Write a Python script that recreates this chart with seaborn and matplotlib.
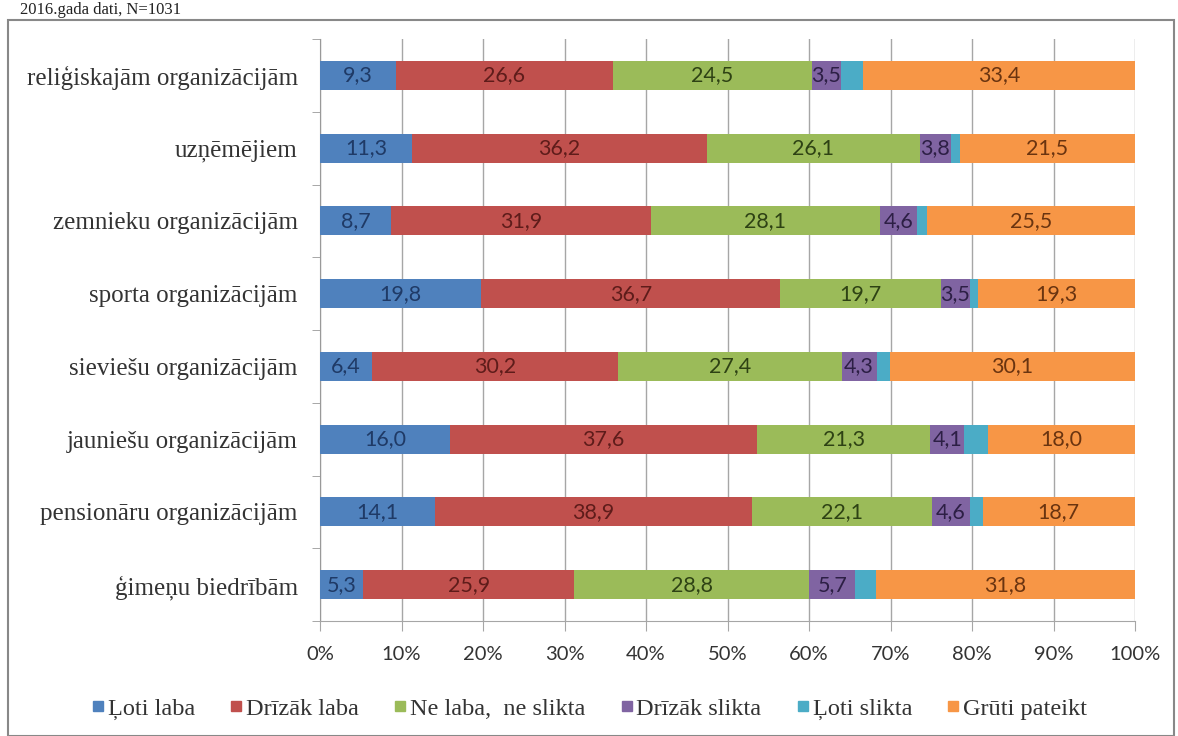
import numpy as np
import pandas as pd
import matplotlib
matplotlib.use("Agg")
import matplotlib.pyplot as plt
import seaborn as sns
from matplotlib.lines import Line2D
from matplotlib.patches import Rectangle

# data (Ļoti slikta = remainder, not labelled)
categories = ["reliģiskajām organizācijām", "uzņēmējiem", "zemnieku organizācijām",
              "sporta organizācijām", "sieviešu organizācijām", "jauniešu organizācijām",
              "pensionāru organizācijām", "ģimeņu biedrībām"]
series = ["Ļoti laba", "Drīzāk laba", "Ne laba,  ne slikta", "Drīzāk slikta", "Ļoti slikta", "Grūti pateikt"]
loti_laba = [9.3, 11.3, 8.7, 19.8, 6.4, 16.0, 14.1, 5.3]
drizak_laba = [26.6, 36.2, 31.9, 36.7, 30.2, 37.6, 38.9, 25.9]
ne_laba = [24.5, 26.1, 28.1, 19.7, 27.4, 21.3, 22.1, 28.8]
drizak_slikta = [3.5, 3.8, 4.6, 3.5, 4.3, 4.1, 4.6, 5.7]
loti_slikta = [2.7, 1.1, 1.2, 1.0, 1.6, 3.0, 1.6, 2.5]
gruti = [33.4, 21.5, 25.5, 19.3, 30.1, 18.0, 18.7, 31.8]

colors = ["#4F81BD", "#C0504D", "#9BBB59", "#8064A2", "#4BACC6", "#F79646"]
text_colors = ["#1F3A66", "#5E1C1A", "#2E4214", "#2D1F45", "#1B4A57", "#6A3410"]

df = pd.DataFrame({"kategorija": categories})
for name, vals in zip(series, [loti_laba, drizak_laba, ne_laba, drizak_slikta, loti_slikta, gruti]):
    df[name] = vals
cum = df[series].cumsum(axis=1)

fig = plt.figure(figsize=(11.78, 7.36), dpi=100)
ax = fig.add_axes([320 / 1178, 1 - 621 / 736, 815 / 1178, 582 / 736])

# stacked bars: draw cumulative totals from the longest down
for i in range(len(series) - 1, -1, -1):
    sns.barplot(x=cum[series[i]], y=df["kategorija"], orient="h", color=colors[i],
                saturation=1, width=0.4, ax=ax, zorder=3, linewidth=0)

# labels in the middle of each segment
for i, name in enumerate(series):
    if name == "Ļoti slikta":
        continue
    for j in range(len(categories)):
        v = df[name][j]
        ax.text(cum[name][j] - v / 2, j, f"{v:.1f}".replace(".", ","), ha="center", va="center",
                fontsize=15.5, family="Lato", color=text_colors[i], zorder=4)

ax.set_xlim(0, 100)
ax.set_ylim(7.5, -0.5)
ax.set_xticks(np.arange(0, 101, 10))
ax.set_xticklabels([f"{t}%" for t in range(0, 101, 10)], family="Lato", fontsize=14.5, color="#333333")
ax.tick_params(axis="x", length=7, color="#A6A6A6", pad=11)
ax.set_yticks(range(len(categories)))
ax.set_yticklabels(categories, family="Liberation Serif", fontsize=18, color="#333333")
ax.tick_params(axis="y", length=0, pad=16)
ax.set_yticks(np.arange(-0.5, 8, 1), minor=True)
ax.tick_params(axis="y", which="minor", length=6, color="#999999")
ax.set_xlabel("")
ax.set_ylabel("")
ax.grid(axis="x", color="#A6A6A6", linewidth=1, zorder=0)
ax.grid(axis="y", visible=False)
for s in ["top", "right"]:
    ax.spines[s].set_visible(False)
ax.spines["left"].set_color("#999999")
ax.spines["bottom"].set_color("#A6A6A6")
ax.set_axisbelow(True)

handles = [Line2D([], [], marker="s", linestyle="", markersize=7, color=c) for c in colors]
fig.legend(handles, series,
           loc="center", bbox_to_anchor=(0.5, 1 - 709 / 736), ncol=6, frameon=False,
           prop={"family": "Liberation Serif", "size": 17.5}, handlelength=0.6, handletextpad=0.1,
           columnspacing=1.4, labelcolor="#333333")

fig.patches.append(Rectangle((8 / 1178, 0), 1166 / 1178, 1 - 20 / 736, transform=fig.transFigure,
                             fill=False, edgecolor="#888888", linewidth=1.5))
fig.text(20 / 1178, 1 - 10 / 736, "2016.gada dati, N=1031", family="Liberation Serif", fontsize=12,
         va="center", ha="left", color="#222222")

fig.savefig("out.png", dpi=100)
